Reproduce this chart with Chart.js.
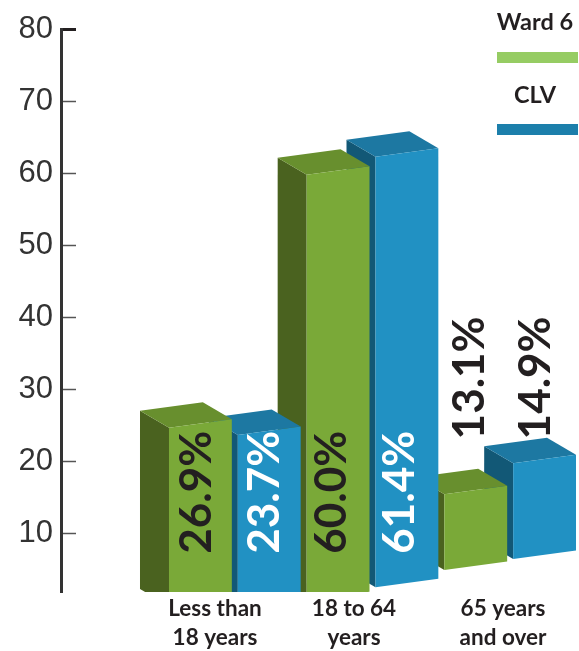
<!DOCTYPE html>
<html>
<head>
<meta charset="utf-8">
<title>Age groups</title>
<style>
  html, body { margin: 0; padding: 0; background: #fff; overflow: hidden; }
  canvas { display: block; }
</style>
<script src="https://cdn.jsdelivr.net/npm/chart.js@4"></script>
</head>
<body>
<canvas id="ageChart" width="579" height="651"></canvas>
<script>
// the data
const categories = [["Less than", "18 years"], ["18 to 64", "years"], ["65 years", "and over"]];
const yTicks = [10, 20, 30, 40, 50, 60, 70, 80];
const seriesNames = ["Ward 6", "CLV"];
const ward6Values = [26.9, 60.0, 13.1];
const clvValues = [23.7, 61.4, 14.9];
// the picture is tilted, so bars do not sit on the axis values
const ward6Lift = [-2.2, -0.2, 2.4];
const clvLift = [0, 0.9, 4.9];
const ward6Base = [0, 0.8, 5.0];
const clvBase = [0, 2.6, 6.5];

const green = { front: "#7aa938", side: "#4a621f", top: "#688f2e", legend: "#96cc63" };
const blue = { front: "#2191c3", side: "#125876", top: "#1d78a2", legend: "#1c7fab" };
const labelFont = "Lato, sans-serif";

const toFloating = (values, lift, base) =>
  values.map((v, i) => [base[i], v + lift[i]]);

const poly = (ctx, color, pts) => {
  ctx.fillStyle = color;
  ctx.beginPath();
  pts.forEach((p, i) => (i ? ctx.lineTo(p[0], p[1]) : ctx.moveTo(p[0], p[1])));
  ctx.closePath();
  ctx.fill();
};

const bars3d = {
  id: "bars3d",
  // y axis sits far left of the plot area, bars start well after it
  afterLayout(chart) {
    const y = chart.scales.y;
    y.left = 0;
    y.right = 61;
  },
  afterDatasetsDraw(chart) {
    const { ctx } = chart;
    const yScale = chart.scales.y;
    const tilt = -8.5; // front edges rise to the right
    const depthX = -29;
    const depthY = -17;

    ctx.save();
    ctx.beginPath();
    ctx.rect(0, 0, chart.width, yScale.bottom);
    ctx.clip();

    // right to left, the nearer bars cover the ones behind
    for (let i = categories.length - 1; i >= 0; i--) {
      for (let d = 1; d >= 0; d--) {
        const el = chart.getDatasetMeta(d).data[i];
        const c = d === 0 ? green : blue;
        const l = el.x - el.width / 2;
        const r = el.x + el.width / 2;
        const t = el.y;
        const b = el.base;
        poly(ctx, c.side, [[l, t], [l + depthX, t + depthY], [l + depthX, b + depthY], [l, b]]);
        poly(ctx, c.top, [[l, t], [r, t + tilt], [r + depthX, t + tilt + depthY], [l + depthX, t + depthY]]);
        poly(ctx, c.front, [[l, t], [r, t + tilt], [r, b + tilt], [l, b]]);
      }
    }
    ctx.restore();

    // rotated percent labels, hand nudged off the bar centres
    const nudge = [[-4, -6, -6], [-4, -7, -9]];
    [ward6Values, clvValues].forEach((values, d) => {
      values.forEach((v, i) => {
        const el = chart.getDatasetMeta(d).data[i];
        const above = v < 20;
        ctx.save();
        ctx.translate(el.x + nudge[d][i], yScale.getPixelForValue(above ? 23.1 : 7.25));
        ctx.rotate(-Math.PI / 2);
        ctx.font = "700 44px " + labelFont;
        ctx.textAlign = "left";
        ctx.textBaseline = "middle";
        ctx.fillStyle = d === 1 && !above ? "#ffffff" : "#231f20";
        ctx.fillText(v.toFixed(1) + "%", 0, 0);
        ctx.restore();
      });
    });

    // category labels, not centred under the groups in the original
    const catX = [215, 354, 503];
    ctx.font = "700 22.5px " + labelFont;
    ctx.textAlign = "center";
    ctx.textBaseline = "middle";
    ctx.fillStyle = "#231f20";
    categories.forEach((lines, i) => {
      lines.forEach((line, n) => ctx.fillText(line, catX[i], 608.5 + n * 29));
    });

    // legend
    seriesNames.forEach((name, d) => {
      const c = d === 0 ? green : blue;
      ctx.font = "700 23.5px " + labelFont;
      ctx.fillStyle = "#231f20";
      ctx.fillText(name, 535, 22 + d * 73);
      ctx.fillStyle = c.legend;
      ctx.fillRect(497, 52 + d * 72, 81, 11);
    });
  },
};

new Chart(document.getElementById("ageChart"), {
  type: "bar",
  data: {
    labels: categories,
    datasets: [
      {
        label: seriesNames[0],
        data: toFloating(ward6Values, ward6Lift, ward6Base),
        backgroundColor: "transparent",
      },
      {
        label: seriesNames[1],
        data: toFloating(clvValues, clvLift, clvBase),
        backgroundColor: "transparent",
      },
    ],
  },
  options: {
    responsive: false,
    animation: false,
    categoryPercentage: 1,
    barPercentage: 0.913,
    layout: { padding: { top: 29, bottom: 59, left: 1, right: 0 } },
    scales: {
      x: { display: false },
      y: {
        min: 1.94,
        max: 80,
        afterFit: (scale) => {
          scale.width = 165;
          // tick padding would otherwise push the plot area down
          scale.paddingTop = 0;
          scale.paddingBottom = 0;
        },
        afterBuildTicks: (scale) => {
          scale.ticks = yTicks.map((v) => ({ value: v }));
        },
        border: { color: "#333333", width: 3 },
        grid: {
          drawOnChartArea: false,
          tickLength: -15,
          tickColor: (c) => (c.tick.value === 80 ? "#231f20" : "#555555"),
          tickWidth: (c) => (c.tick.value === 80 ? 3 : 1.5),
        },
        ticks: {
          padding: 23,
          color: "#333333",
          font: { family: "'Liberation Sans', Arial, sans-serif", size: 31 },
        },
      },
    },
    plugins: {
      legend: { display: false },
      tooltip: { enabled: false },
    },
  },
  plugins: [bars3d],
});
</script>
</body>
</html>
